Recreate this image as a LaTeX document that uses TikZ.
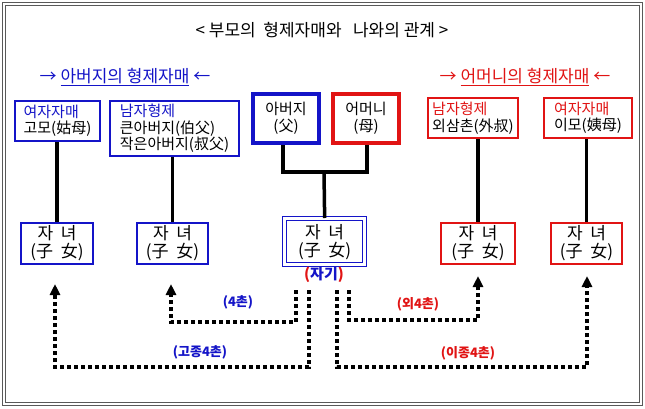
\documentclass[tikz,border=0pt]{standalone}
\usepackage{fontspec}
\setmainfont{Noto Sans CJK KR}
\usetikzlibrary{arrows.meta}
\definecolor{kblue}{RGB}{20,20,200}
\definecolor{kred}{RGB}{225,20,20}
\begin{document}
\begin{tikzpicture}[x=1pt,y=-1pt,
  box/.style={draw,line width=2pt,inner sep=0pt,anchor=north west,align=center,font=\fontsize{15}{16.5}\selectfont},
  side/.style={box,inner xsep=3pt,align=left},
  kid/.style={box,font=\fontsize{17}{18}\selectfont},
  tie/.style={line width=3.5pt},
  kin/.style={line width=3.5pt,dash pattern=on 4pt off 3pt,-{Triangle[length=11pt,width=10pt]}},
  lbl/.style={font=\bfseries\fontsize{13}{14}\selectfont}]
\useasboundingbox (0,0) rectangle (645,408);
\fill[white] (0,0) rectangle (645,408);

%frame
\draw[double=white,double distance=2.5pt,line width=1.2pt,gray!70!black] (4,4) rectangle (641,404);
\node[font=\fontsize{17}{18}\selectfont] (title) at (322,30) {< 부모의 \ 형제자매와 \ \ 나와의 관계 >};

%headings
\node[kblue,font=\fontsize{17}{18}\selectfont] (fhead) at (125,77) {→ \underline{아버지의 형제자매} ←};
\node[kred,font=\fontsize{17}{18}\selectfont] (mhead) at (525,77) {→ \underline{어머니의 형제자매} ←};

%parents generation
\node[side,kblue,minimum width=85pt,minimum height=40pt] (aunt1) at (14,100)
  {\textcolor{kblue}{여자자매}\\\textcolor{black}{고모(姑母)}};
\node[side,kblue,minimum width=129pt,minimum height=55pt] (uncle1) at (109,100)
  {\textcolor{kblue}{남자형제}\\\textcolor{black}{큰아버지(伯父)}\\\textcolor{black}{작은아버지(叔父)}};
\node[box,kblue,line width=4pt,minimum width=66pt,minimum height=49pt,text=black] (father) at (251,92) {아버지\\(父)};
\node[box,kred,line width=4pt,minimum width=66pt,minimum height=49pt,text=black] (mother) at (331,92) {어머니\\(母)};
\node[side,kred,minimum width=90pt,minimum height=40pt] (uncle2) at (427,97)
  {\textcolor{kred}{남자형제}\\\textcolor{black}{외삼촌(外叔)}};
\node[side,kred,minimum width=88pt,minimum height=40pt] (aunt2) at (543,97)
  {\textcolor{kred}{여자자매}\\\textcolor{black}{이모(姨母)}};

%children
\node[kid,kblue,text=black,minimum width=72pt,minimum height=41pt] (kid1) at (20,222) {자 \ 녀\\(子 \ 女)};
\node[kid,kblue,text=black,minimum width=71pt,minimum height=41pt] (kid2) at (136,222) {자 \ 녀\\(子 \ 女)};
\node[kid,kblue,text=black,double=white,double distance=2.5pt,line width=1.3pt,minimum width=80pt,minimum height=46pt] (self) at (284,218) {자 \ 녀\\(子 \ 女)};
\node[kid,kred,text=black,minimum width=74pt,minimum height=41pt] (kid3) at (440,222) {자 \ 녀\\(子 \ 女)};
\node[kid,kred,text=black,minimum width=71pt,minimum height=41pt] (kid4) at (550,222) {자 \ 녀\\(子 \ 女)};
\node[lbl,font=\bfseries\fontsize{15}{16}\selectfont] (me) at (324,275) {\textcolor{kred}{(}\textcolor{kblue}{자기}\textcolor{kred}{)}};

%family lines
\coordinate (fa) at (283,172);
\coordinate (mo) at (367,172);
\draw[tie] (aunt1.south -| kid1.north) -- (kid1.north);
\draw[tie] (uncle1.south -| kid2.north) -- (kid2.north);
\draw[tie] (father.south -| fa) -- (fa) -- (mo) -- (mother.south -| mo);
\draw[tie] (324,172) -- (self.north);
\draw[tie] (uncle2.south -| kid3.north) -- (kid3.north);
\draw[tie] (aunt2.south -| kid4.north) -- (kid4.north);

%cousins
\coordinate (c1) at (296,290); \coordinate (c2) at (309,290);
\coordinate (c3) at (337,290); \coordinate (c4) at (349,290);
\draw[kin] (c1) -- (296,322) -- (171,322) -- (171,284);
\draw[kin] (c2) -- (309,367) -- (55,367) -- (55,284);
\draw[kin] (c4) -- (349,320) -- (478,320) -- (478,276);
\draw[kin] (c3) -- (337,367) -- (587,367) -- (587,276);
\node[lbl,kblue] (l1) at (238,302) {(4촌)};
\node[lbl,kblue] (l2) at (200,352) {(고종4촌)};
\node[lbl,kred] (l3) at (418,304) {(외4촌)};
\node[lbl,kred] (l4) at (468,353) {(이종4촌)};
\end{tikzpicture}
\end{document}
